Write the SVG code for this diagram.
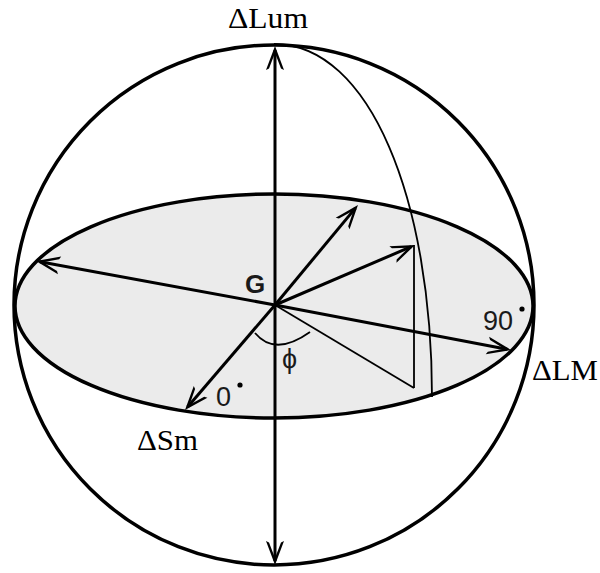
<svg xmlns="http://www.w3.org/2000/svg" width="600" height="573" viewBox="0 0 600 573">
<style>
.heavy{fill:none;stroke:#000;stroke-width:3.5}
.arrow{fill:none;stroke:#000;stroke-width:3;marker-end:url(#ah)}
.thin{fill:none;stroke:#000;stroke-width:1.8}
.lbl{font-family:"Liberation Serif","Times New Roman",serif;font-size:29px;fill:#000}
.num{font-family:"Liberation Sans",Arial,sans-serif;font-size:27px;fill:#1a1a1a}
</style>
<defs>
<marker id="ah" markerUnits="userSpaceOnUse" viewBox="-26 -11 30 22" refX="-4" refY="0" markerWidth="30" markerHeight="22" orient="auto" overflow="visible">
<path d="M0,0 L-24,-9 L-22.5,-6 L-7,0 L-22.5,6 L-24,9 Z" fill="#000"/>
</marker>
</defs>
<rect width="600" height="573" fill="#fff"/>
<g id="equator-fill">
<ellipse cx="274" cy="306" rx="259" ry="112" fill="#ebebeb"/>
</g>
<g id="sphere">
<circle class="heavy" cx="274" cy="305" r="260"/>
</g>
<g id="equator">
<ellipse class="heavy" cx="274" cy="306" rx="259" ry="112"/>
</g>
<g id="connectors">
<line class="arrow" x1="275" y1="305" x2="275" y2="50"/>
<line class="arrow" x1="275" y1="305" x2="275" y2="561"/>
<line class="arrow" x1="275" y1="305" x2="39.9" y2="261.7"/>
<line class="arrow" x1="275" y1="305" x2="507.1" y2="349.25"/>
<line class="arrow" x1="275" y1="305" x2="187.6" y2="407"/>
<line class="arrow" x1="275" y1="305" x2="355.4" y2="208.1"/>
<line class="arrow" x1="275" y1="305" x2="411.3" y2="246.6"/>
<line class="thin" x1="275" y1="305" x2="414" y2="388"/>
<line class="thin" x1="414" y1="245" x2="414" y2="388"/>
<path class="thin" d="M274,44 C370,44 432,200 432,397"/>
<path class="thin" d="M255,333 Q275,357 310,332"/>
</g>
<g id="labels">
<text class="lbl" x="228" y="28" textLength="80" lengthAdjust="spacingAndGlyphs">ΔLum</text>
<text class="lbl" x="532" y="380" textLength="66" lengthAdjust="spacingAndGlyphs">ΔLM</text>
<text class="lbl" x="137" y="450" textLength="61" lengthAdjust="spacingAndGlyphs">ΔSm</text>
<text x="245" y="293" font-family="'Liberation Sans',Arial,sans-serif" font-size="26" font-weight="bold" fill="#1a1a1a">G</text>
<text class="num" x="282" y="368" font-size="26">ϕ</text>
<text class="num" x="216" y="406">0</text>
<circle cx="240" cy="385" r="2.6" fill="#000"/>
<text class="num" x="483" y="330">90</text>
<circle cx="522" cy="309" r="2.6" fill="#000"/>
</g>
</svg>
